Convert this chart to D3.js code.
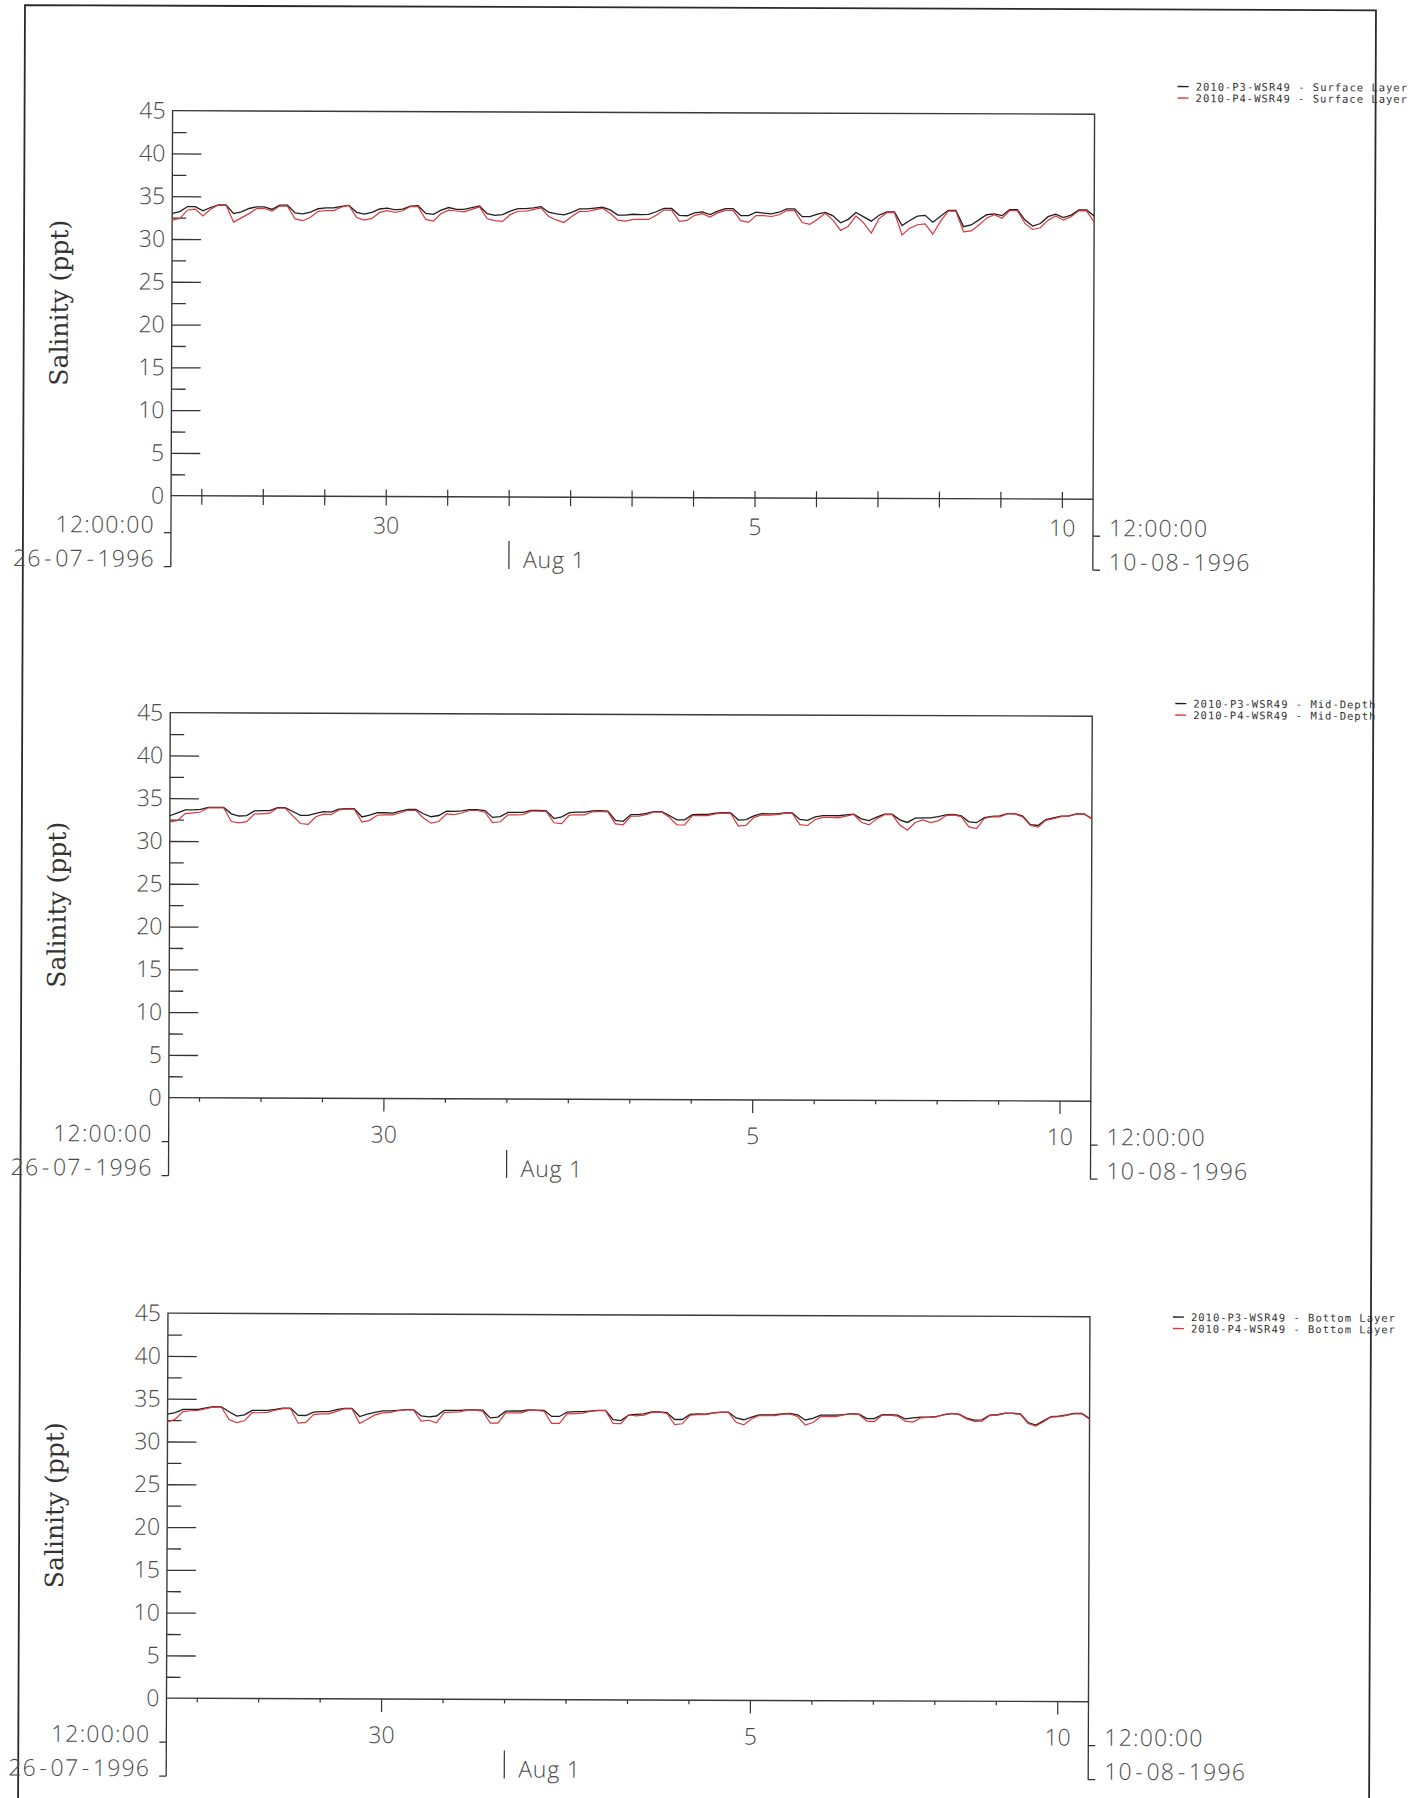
<!DOCTYPE html>
<html><head><meta charset="utf-8">
<script src="https://cdn.jsdelivr.net/npm/d3@7"></script>
<style>
html,body{margin:0;padding:0;background:#fff;}
svg{display:block;}
</style></head><body>
<svg id="chart" width="1423" height="1798"></svg>
<script>
// ---------------- data ----------------
const startTime = "1996-07-26T12:00:00Z";
const endTime   = "1996-08-10T12:00:00Z";
const sampleStepHours = 3;   // one value every 3 hours

const yTicksMajor = [0, 5, 10, 15, 20, 25, 30, 35, 40, 45];
const yTicksMinor = [2.5, 7.5, 12.5, 17.5, 22.5, 27.5, 32.5, 37.5, 42.5];
const dayLabelDates = ["1996-07-30", "1996-08-05", "1996-08-10"];
const dayLabelTexts = ["30", "5", "10"];
const monthMarkDate = "1996-08-01";
const monthMarkText = "Aug 1";
const startLabels = ["12:00:00", "26-07-1996"];
const endLabels   = ["12:00:00", "10-08-1996"];
const seriesNames = ["2010-P3-WSR49", "2010-P4-WSR49"];
const layerNames  = ["Surface Layer", "Mid-Depth", "Bottom Layer"];
const yTitle = "Salinity (ppt)";

// Surface layer
const surfaceP3 = [
  33.0, 33.2, 33.8, 33.8, 33.3, 33.7, 34.0, 34.0,
  33.0, 33.2, 33.6, 33.8, 33.8, 33.5, 34.0, 34.0,
  33.1, 33.0, 33.2, 33.6, 33.7, 33.7, 33.9, 34.0,
  33.2, 33.0, 33.2, 33.6, 33.7, 33.5, 33.6, 33.95,
  34.0, 33.1, 33.0, 33.5, 33.8, 33.6, 33.6, 33.8,
  34.0, 33.1, 32.9, 33.0, 33.4, 33.7, 33.7, 33.8,
  33.95, 33.3, 33.1, 33.0, 33.3, 33.7, 33.7, 33.8,
  33.9, 33.6, 33.0, 33.0, 33.1, 33.06, 33.1, 33.4,
  33.8, 33.8, 33.0, 32.95, 33.3, 33.4, 33.1, 33.5,
  33.8, 33.8, 33.0, 33.0, 33.4, 33.3, 33.2, 33.4,
  33.8, 33.8, 32.9, 32.9, 33.2, 33.4, 33.0, 32.2,
  32.6, 33.4, 32.9, 32.4, 33.1, 33.5, 33.5, 31.9,
  32.5, 33.0, 33.1, 32.3, 33.0, 33.7, 33.7, 31.8,
  32.0, 32.6, 33.2, 33.3, 33.1, 33.8, 33.8, 32.6,
  31.9, 32.2, 33.0, 33.3, 32.9, 33.2, 33.8, 33.8,
  33.1
];
const surfaceP4 = [
  32.2, 32.4, 33.4, 33.5, 32.7, 33.5, 34.0, 34.0,
  32.0, 32.5, 33.0, 33.6, 33.6, 33.3, 33.9, 33.9,
  32.4, 32.2, 32.6, 33.3, 33.4, 33.4, 33.8, 34.0,
  32.6, 32.3, 32.5, 33.2, 33.4, 33.2, 33.4, 33.9,
  33.9, 32.4, 32.2, 33.1, 33.5, 33.4, 33.3, 33.6,
  33.9, 32.5, 32.3, 32.2, 33.0, 33.4, 33.4, 33.6,
  33.8, 32.8, 32.4, 32.1, 32.8, 33.4, 33.4, 33.6,
  33.8, 33.2, 32.4, 32.3, 32.5, 32.5, 32.5, 33.0,
  33.6, 33.6, 32.3, 32.4, 33.0, 33.2, 32.8, 33.3,
  33.6, 33.6, 32.4, 32.2, 33.0, 33.0, 32.9, 33.1,
  33.6, 33.6, 32.2, 32.0, 32.6, 33.3, 32.5, 31.3,
  31.8, 33.0, 32.2, 31.0, 32.7, 33.4, 33.4, 30.8,
  31.6, 32.0, 32.1, 30.9, 32.4, 33.6, 33.6, 31.2,
  31.3, 32.0, 32.8, 33.2, 32.8, 33.7, 33.7, 32.2,
  31.5, 31.7, 32.6, 33.1, 32.6, 33.0, 33.7, 33.7,
  32.4
];
// Mid-depth
const midP3 = [
  32.95, 33.3, 33.65, 33.65, 33.7, 33.95, 33.95, 33.95,
  33.2, 32.95, 33.0, 33.55, 33.6, 33.6, 33.95, 33.95,
  33.5, 33.05, 33.05, 33.3, 33.5, 33.45, 33.8, 33.85,
  33.85, 32.9, 33.1, 33.4, 33.4, 33.35, 33.6, 33.8,
  33.8, 33.3, 32.95, 33.1, 33.6, 33.6, 33.65, 33.8,
  33.8, 33.7, 32.9, 33.0, 33.5, 33.5, 33.5, 33.75,
  33.75, 33.7, 32.8, 33.0, 33.5, 33.55, 33.55, 33.7,
  33.75, 33.7, 32.6, 32.5, 33.3, 33.3, 33.45, 33.65,
  33.65, 33.2, 32.7, 32.7, 33.3, 33.35, 33.35, 33.5,
  33.57, 33.55, 32.7, 32.75, 33.2, 33.45, 33.45, 33.45,
  33.55, 33.55, 32.8, 32.7, 33.1, 33.25, 33.25, 33.25,
  33.35, 33.45, 32.9, 32.7, 33.1, 33.45, 33.45, 32.8,
  32.5, 33.0, 33.05, 33.05, 33.2, 33.4, 33.45, 33.3,
  32.6, 32.5, 33.1, 33.25, 33.3, 33.57, 33.57, 33.3,
  32.3, 32.2, 32.9, 33.1, 33.3, 33.35, 33.57, 33.57,
  33.05
];
const midP4 = [
  32.2, 32.4, 33.2, 33.3, 33.4, 33.9, 33.9, 33.9,
  32.3, 32.15, 32.3, 33.2, 33.2, 33.3, 33.9, 33.9,
  33.0, 32.1, 32.0, 32.9, 33.2, 33.15, 33.7, 33.8,
  33.8, 32.3, 32.5, 33.1, 33.15, 33.15, 33.4, 33.7,
  33.7, 32.8, 32.2, 32.4, 33.3, 33.2, 33.4, 33.7,
  33.7, 33.5, 32.3, 32.4, 33.2, 33.2, 33.25, 33.65,
  33.65, 33.6, 32.3, 32.2, 33.2, 33.25, 33.25, 33.6,
  33.65, 33.6, 32.2, 32.1, 33.1, 33.1, 33.3, 33.6,
  33.6, 33.0, 32.1, 32.1, 33.2, 33.2, 33.2, 33.4,
  33.5, 33.45, 32.0, 32.1, 33.0, 33.3, 33.3, 33.35,
  33.5, 33.5, 32.2, 32.1, 32.8, 33.05, 33.05, 33.0,
  33.2, 33.4, 32.5, 32.2, 32.9, 33.4, 33.4, 32.2,
  31.6, 32.5, 32.8, 32.5, 32.7, 33.3, 33.4, 33.2,
  32.0, 31.8, 33.0, 33.2, 33.2, 33.55, 33.55, 33.2,
  32.2, 32.0, 32.8, 33.0, 33.25, 33.3, 33.55, 33.55,
  33.0
];
// Bottom layer
const bottomP3 = [
  33.2, 33.37, 33.76, 33.76, 33.76, 33.95, 34.08, 34.08,
  33.5, 33.0, 33.15, 33.68, 33.68, 33.68, 33.8, 33.96,
  33.96, 33.1, 33.1, 33.5, 33.57, 33.57, 33.8, 33.96,
  33.96, 33.0, 33.3, 33.5, 33.68, 33.68, 33.75, 33.84,
  33.84, 33.1, 33.0, 33.1, 33.76, 33.76, 33.76, 33.84,
  33.84, 33.8, 32.9, 33.0, 33.7, 33.72, 33.72, 33.84,
  33.84, 33.8, 33.1, 33.1, 33.6, 33.68, 33.68, 33.75,
  33.84, 33.84, 32.75, 32.65, 33.3, 33.37, 33.45, 33.68,
  33.68, 33.6, 32.8, 32.8, 33.4, 33.45, 33.45, 33.6,
  33.68, 33.68, 33.0, 32.8, 33.1, 33.37, 33.37, 33.4,
  33.5, 33.57, 33.4, 32.8, 33.0, 33.37, 33.37, 33.37,
  33.45, 33.57, 33.5, 32.98, 33.0, 33.45, 33.45, 33.4,
  32.98, 33.1, 33.18, 33.2, 33.25, 33.45, 33.6, 33.55,
  33.1, 32.85, 32.9, 33.45, 33.5, 33.68, 33.68, 33.6,
  32.6, 32.3, 32.8, 33.3, 33.35, 33.5, 33.68, 33.68,
  33.1
];
const bottomP4 = [
  32.3, 32.6, 33.5, 33.6, 33.65, 33.85, 34.05, 34.05,
  32.6, 32.25, 32.45, 33.4, 33.4, 33.45, 33.7, 33.9,
  33.9, 32.2, 32.3, 33.2, 33.3, 33.3, 33.6, 33.9,
  33.9, 32.2, 32.7, 33.2, 33.45, 33.5, 33.7, 33.8,
  33.8, 32.5, 32.6, 32.3, 33.5, 33.55, 33.6, 33.8,
  33.8, 33.7, 32.3, 32.3, 33.5, 33.5, 33.5, 33.8,
  33.8, 33.7, 32.3, 32.3, 33.4, 33.45, 33.5, 33.7,
  33.8, 33.8, 32.3, 32.3, 33.3, 33.2, 33.3, 33.6,
  33.65, 33.5, 32.2, 32.3, 33.3, 33.37, 33.37, 33.55,
  33.65, 33.65, 32.5, 32.2, 32.9, 33.3, 33.3, 33.3,
  33.45, 33.5, 33.2, 32.2, 32.5, 33.2, 33.2, 33.2,
  33.4, 33.55, 33.45, 32.7, 32.65, 33.4, 33.4, 33.3,
  32.7, 32.6, 33.1, 33.15, 33.2, 33.5, 33.65, 33.5,
  33.0, 32.7, 32.75, 33.4, 33.45, 33.65, 33.65, 33.55,
  32.5, 32.2, 32.7, 33.25, 33.3, 33.45, 33.65, 33.65,
  33.0
];

// ---------------- drawing ----------------
const FONT = "'Open Sans', 'DejaVu Sans', sans-serif";
const MONO = "'DejaVu Sans Mono', 'Liberation Mono', monospace";
const SERIF = "'DejaVu Serif', serif";
const TXT = "#4a4a4a";
const BLACK = "#1e1e1e";
const RED = "#d8383c";

const t0 = new Date(startTime), t1 = new Date(endTime);
const times = d3.range(surfaceP3.length).map(i => d3.utcHour.offset(t0, i * sampleStepHours));

const plotLeft = 173, plotW = 922, plotH = 385;
const panels = [
  {top: 110,   row1: 29, row2: 63, cross: true,  legendDy: -28, p3: surfaceP3, p4: surfaceP4, layer: layerNames[0]},
  {top: 712,   row1: 36, row2: 70, cross: false, legendDy: -13, p3: midP3,     p4: midP4,     layer: layerNames[1]},
  {top: 1312.5,row1: 36, row2: 70, cross: false, legendDy: 0,   p3: bottomP3,  p4: bottomP4,  layer: layerNames[2]}
];

// write a string into a text element, widening the gaps around each hyphen
function dashedText(sel, str, gap) {
  const parts = str.split("-");
  parts.forEach((part, i) => {
    if (i > 0) sel.append("tspan").attr("dx", gap).text("-");
    const t = sel.append("tspan").text(part);
    if (i > 0) t.attr("dx", gap);
  });
  return sel;
}

const svg = d3.select("#chart");
svg.append("rect").attr("width", 1423).attr("height", 1798).attr("fill", "#fff");
const root = svg.append("g").attr("transform", "rotate(0.22)");

// page frame
root.append("path")
  .attr("d", "M25,1840 L25,5 L1376,5 L1376,1840")
  .attr("fill", "none").attr("stroke", "#2a2a2a").attr("stroke-width", 1.8);

const x = d3.scaleUtc().domain([t0, t1]).range([0, plotW]);
const y = d3.scaleLinear().domain([0, 45]).range([plotH, 0]);
const days = d3.utcDay.range(t0, t1);
const labelDays = dayLabelDates.map(s => new Date(s + "T00:00:00Z"));

panels.forEach(p => {
  const g = root.append("g").attr("transform", `translate(${plotLeft},${p.top})`);

  // y axis major ticks (inward)
  const yMaj = g.append("g").call(
    d3.axisLeft(y).tickValues(yTicksMajor).tickSize(-29).tickPadding(7).tickSizeOuter(0)
  );
  yMaj.select(".domain").remove();
  yMaj.attr("font-family", FONT).attr("font-size", 23).attr("font-weight", 300);
  yMaj.selectAll("text").attr("fill", TXT);
  yMaj.selectAll("line").attr("stroke", "#333").attr("stroke-width", 1.3);
  yMaj.selectAll(".tick").filter(d => d === 45 || d === 0).select("line").remove();

  // y axis minor ticks
  const yMin = g.append("g").call(
    d3.axisLeft(y).tickValues(yTicksMinor).tickSize(-14).tickFormat("").tickSizeOuter(0)
  );
  yMin.select(".domain").remove();
  yMin.selectAll("line").attr("stroke", "#333").attr("stroke-width", 1.3);

  // plot box
  g.append("rect").attr("width", plotW).attr("height", plotH)
    .attr("fill", "none").attr("stroke", "#3a3a3a").attr("stroke-width", 1.4);

  // x ticks
  g.append("g").selectAll("line").data(days).join("line")
    .attr("x1", d => x(d)).attr("x2", d => x(d))
    .attr("y1", p.cross ? plotH - 7 : plotH)
    .attr("y2", d => p.cross ? plotH + 9 : (labelDays.some(l => +l === +d) ? plotH + 13 : plotH + 4))
    .attr("stroke", "#333").attr("stroke-width", 1.2);

  // x tick labels
  g.append("g").selectAll("text").data(labelDays).join("text")
    .attr("x", d => x(d)).attr("y", plotH + p.row1)
    .attr("dy", "0.35em").attr("text-anchor", "middle")
    .attr("font-family", FONT).attr("font-size", 23).attr("font-weight", 300).attr("fill", TXT)
    .text((d, i) => dayLabelTexts[i]);

  // month marker
  const mx = x(new Date(monthMarkDate + "T00:00:00Z"));
  g.append("line").attr("x1", mx).attr("x2", mx)
    .attr("y1", plotH + p.row2 - 19).attr("y2", plotH + p.row2 + 9)
    .attr("stroke", "#333").attr("stroke-width", 1.2);
  g.append("text").attr("x", mx + 14).attr("y", plotH + p.row2)
    .attr("dy", "0.35em").attr("font-family", FONT).attr("font-size", 23).attr("font-weight", 300)
    .attr("letter-spacing", 0.8).attr("fill", TXT).text(monthMarkText);

  // start / end brackets and labels
  [[0, -1, startLabels, "end"], [plotW, 1, endLabels, "start"]].forEach(([bx, dir, labs, anchor]) => {
    g.append("line").attr("x1", bx).attr("x2", bx)
      .attr("y1", plotH).attr("y2", plotH + p.row2 + 8)
      .attr("stroke", "#333").attr("stroke-width", 1.3);
    [p.row1, p.row2].forEach((r, i) => {
      g.append("line").attr("x1", bx).attr("x2", bx + dir * 7)
        .attr("y1", plotH + r + 8).attr("y2", plotH + r + 8)
        .attr("stroke", "#333").attr("stroke-width", 1.3);
      const t = g.append("text").attr("x", bx + dir * 16).attr("y", plotH + r)
        .attr("dy", "0.35em").attr("text-anchor", anchor)
        .attr("font-family", FONT).attr("font-size", 23).attr("font-weight", 300)
        .attr("letter-spacing", 1.2).attr("fill", TXT);
      dashedText(t, labs[i], 2.5);
    });
  });

  // y title
  g.append("text")
    .attr("transform", `translate(${69 - plotLeft},${plotH / 2}) rotate(-90)`)
    .attr("text-anchor", "middle")
    .attr("font-family", SERIF).attr("font-size", 25).attr("fill", "#333")
    .text(yTitle);

  // series lines
  const line = d3.line().x((d, i) => x(times[i])).y(d => y(d));
  g.append("path").datum(p.p3).attr("d", line)
    .attr("fill", "none").attr("stroke", BLACK).attr("stroke-width", 1.3);
  g.append("path").datum(p.p4).attr("d", line)
    .attr("fill", "none").attr("stroke", RED).attr("stroke-width", 1.2);

  // legend
  const ly = p.top + p.legendDy;
  [BLACK, RED].forEach((c, i) => {
    root.append("line").attr("x1", 1178).attr("x2", 1189)
      .attr("y1", ly + i * 11.5).attr("y2", ly + i * 11.5)
      .attr("stroke", c).attr("stroke-width", 1.3);
    root.append("text").attr("x", 1196).attr("y", ly + i * 11.5 + 4)
      .attr("font-family", MONO).attr("font-size", 10.5).attr("letter-spacing", 1.0)
      .attr("fill", "#333").style("white-space", "pre")
      .text(`${seriesNames[i]} - ${p.layer}`);
  });
});
</script>
</body></html>
